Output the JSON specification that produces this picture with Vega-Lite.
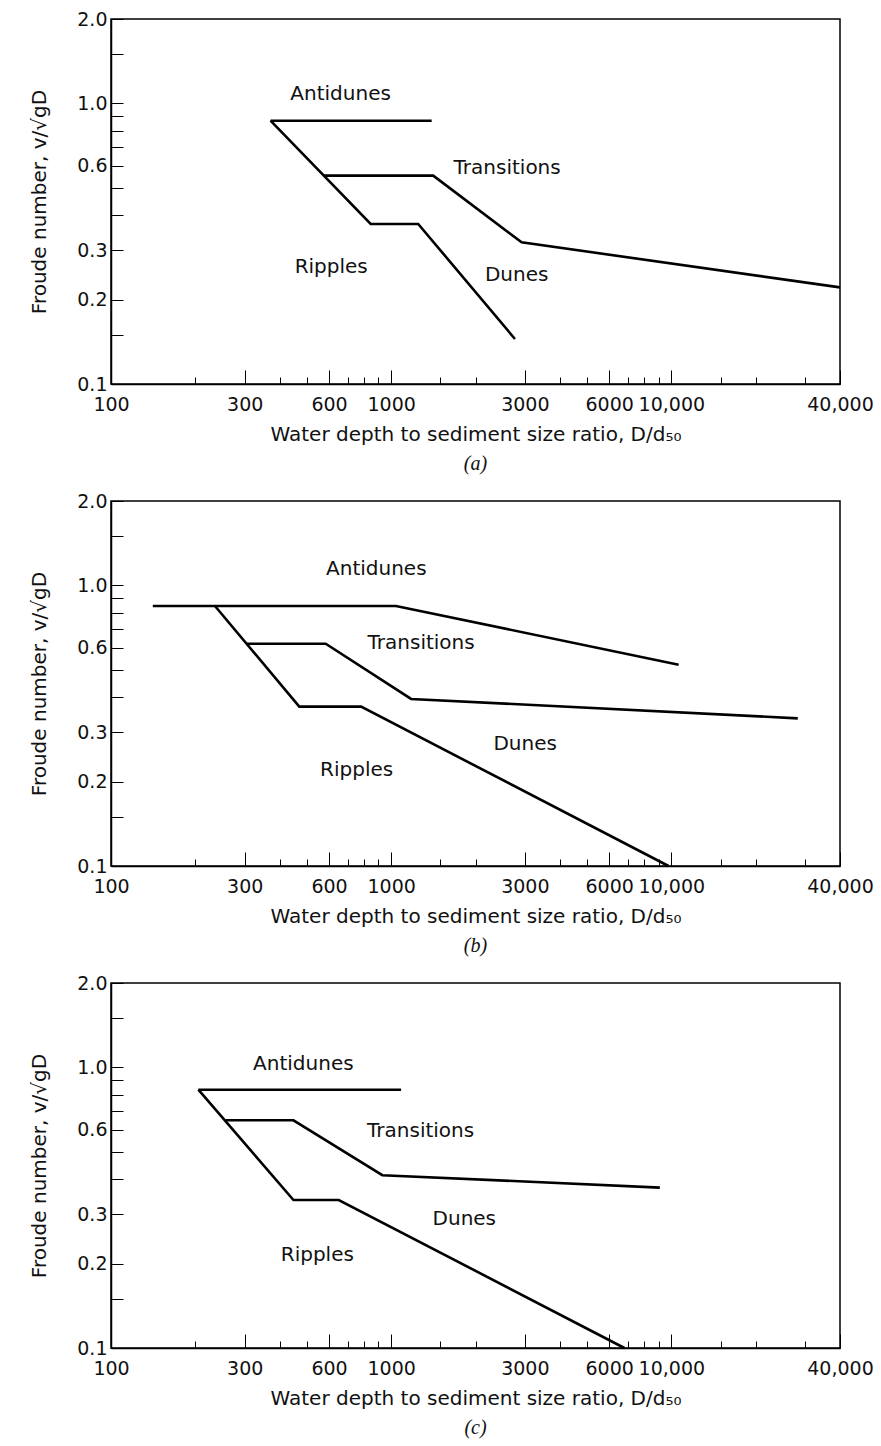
{
  "$schema": "https://vega.github.io/schema/vega-lite/v6.json",
  "padding": {"left": 29, "top": 9, "right": 2, "bottom": 2},
  "background": "white",
  "spacing": 16,
  "datasets": {
    "lines": [
      {"p": "a", "id": "anti", "i": 1, "x": 371, "y": 0.868},
      {"p": "a", "id": "anti", "i": 2, "x": 1395, "y": 0.868},
      {"p": "a", "id": "rip", "i": 1, "x": 371, "y": 0.868},
      {"p": "a", "id": "rip", "i": 2, "x": 845, "y": 0.372},
      {"p": "a", "id": "rip", "i": 3, "x": 1249, "y": 0.372},
      {"p": "a", "id": "rip", "i": 4, "x": 2766, "y": 0.1447},
      {"p": "a", "id": "tra", "i": 1, "x": 575, "y": 0.553},
      {"p": "a", "id": "tra", "i": 2, "x": 1413, "y": 0.553},
      {"p": "a", "id": "tra", "i": 3, "x": 2922, "y": 0.32},
      {"p": "a", "id": "tra", "i": 4, "x": 40000, "y": 0.221},
      {"p": "b", "id": "anti", "i": 1, "x": 141, "y": 0.845},
      {"p": "b", "id": "anti", "i": 2, "x": 1040, "y": 0.845},
      {"p": "b", "id": "anti", "i": 3, "x": 10620, "y": 0.522},
      {"p": "b", "id": "rip", "i": 1, "x": 235, "y": 0.845},
      {"p": "b", "id": "rip", "i": 2, "x": 470, "y": 0.37},
      {"p": "b", "id": "rip", "i": 3, "x": 781, "y": 0.37},
      {"p": "b", "id": "rip", "i": 4, "x": 9770, "y": 0.1},
      {"p": "b", "id": "tra", "i": 1, "x": 305, "y": 0.62},
      {"p": "b", "id": "tra", "i": 2, "x": 584, "y": 0.62},
      {"p": "b", "id": "tra", "i": 3, "x": 1178, "y": 0.394},
      {"p": "b", "id": "tra", "i": 4, "x": 28270, "y": 0.336},
      {"p": "c", "id": "anti", "i": 1, "x": 205, "y": 0.833},
      {"p": "c", "id": "anti", "i": 2, "x": 1085, "y": 0.833},
      {"p": "c", "id": "rip", "i": 1, "x": 205, "y": 0.833},
      {"p": "c", "id": "rip", "i": 2, "x": 448, "y": 0.337},
      {"p": "c", "id": "rip", "i": 3, "x": 650, "y": 0.337},
      {"p": "c", "id": "rip", "i": 4, "x": 6800, "y": 0.1},
      {"p": "c", "id": "tra", "i": 1, "x": 256, "y": 0.648},
      {"p": "c", "id": "tra", "i": 2, "x": 448, "y": 0.648},
      {"p": "c", "id": "tra", "i": 3, "x": 930, "y": 0.413},
      {"p": "c", "id": "tra", "i": 4, "x": 9100, "y": 0.373}
    ],
    "labels": [
      {"p": "a", "text": "Antidunes", "x": 660, "y": 1.08},
      {"p": "a", "text": "Transitions", "x": 2594, "y": 0.59},
      {"p": "a", "text": "Ripples", "x": 611, "y": 0.261},
      {"p": "a", "text": "Dunes", "x": 2806, "y": 0.244},
      {"p": "b", "text": "Antidunes", "x": 885, "y": 1.149},
      {"p": "b", "text": "Transitions", "x": 1279, "y": 0.623},
      {"p": "b", "text": "Dunes", "x": 3007, "y": 0.273},
      {"p": "b", "text": "Ripples", "x": 753, "y": 0.2207},
      {"p": "c", "text": "Antidunes", "x": 486, "y": 1.026},
      {"p": "c", "text": "Transitions", "x": 1274, "y": 0.592},
      {"p": "c", "text": "Dunes", "x": 1824, "y": 0.288},
      {"p": "c", "text": "Ripples", "x": 545, "y": 0.2137}
    ]
  },
  "config": {
    "view": {"stroke": "black", "strokeWidth": 1.5},
    "font": "DejaVu Sans",
    "axis": {
      "grid": false,
      "domainColor": "black",
      "domainWidth": 1.5,
      "tickColor": "black",
      "tickWidth": 1,
      "labelColor": "#111",
      "labelFont": "DejaVu Sans",
      "labelFontSize": 19,
      "labelFlush": false,
      "labelOverlap": false,
      "titleFont": "DejaVu Sans",
      "titleFontSize": 20,
      "titleFontWeight": "normal",
      "titleColor": "#111"
    },
    "title": {"font": "Liberation Serif", "fontStyle": "italic", "fontWeight": "normal", "fontSize": 20, "color": "#111", "orient": "bottom", "anchor": "middle", "offset": 10}
  },
  "vconcat": [
    {
      "width": 729, "height": 365,
      "title": "(a)",
      "layer": [
        {
          "data": {"name": "lines"},
          "transform": [{"filter": "datum.p == 'a'"}],
          "mark": {"type": "line", "color": "black", "strokeWidth": 2.6},
          "encoding": {
            "x": {"field": "x", "type": "quantitative", "scale": {"type": "log", "domain": [100, 40000], "nice": false},
              "axis": {"title": "Water depth to sediment size ratio, D/d₅₀",
                "values": [100, 200, 300, 400, 500, 600, 700, 800, 900, 1000, 1500, 2000, 3000, 4000, 5000, 6000, 7000, 8000, 9000, 10000, 15000, 20000, 30000, 40000],
                "labelExpr": "datum.value == 10000 ? '10,000' : datum.value == 40000 ? '40,000' : indexof([100, 300, 600, 1000, 3000, 6000], datum.value) >= 0 ? format(datum.value, 'd') : ''",
                "tickSize": {"condition": {"test": "indexof([100, 300, 600, 1000, 3000, 6000, 10000, 40000], datum.value) >= 0", "value": -14}, "value": -7},
                "labelPadding": 25, "titlePadding": 3}},
            "y": {"field": "y", "type": "quantitative", "scale": {"type": "log", "domain": [0.1, 2], "nice": false},
              "axis": {"title": "Froude number, v/√gD",
                "values": [0.1, 0.15, 0.2, 0.3, 0.4, 0.5, 0.6, 0.7, 0.8, 0.9, 1, 1.5, 2],
                "labelExpr": "indexof([0.1, 0.2, 0.3, 0.6, 1, 2], datum.value) >= 0 ? format(datum.value, '.1f') : ''",
                "tickSize": -12, "labelPadding": 16, "titlePadding": 27}},
            "detail": {"field": "id"},
            "order": {"field": "i"}
          }
        },
        {
          "data": {"name": "labels"},
          "transform": [{"filter": "datum.p == 'a'"}],
          "mark": {"type": "text", "fontSize": 20, "font": "DejaVu Sans", "color": "#111"},
          "encoding": {
            "x": {"field": "x", "type": "quantitative"},
            "y": {"field": "y", "type": "quantitative"},
            "text": {"field": "text"}
          }
        }
      ]
    },
    {
      "width": 729, "height": 365,
      "title": "(b)",
      "layer": [
        {
          "data": {"name": "lines"},
          "transform": [{"filter": "datum.p == 'b'"}],
          "mark": {"type": "line", "color": "black", "strokeWidth": 2.6},
          "encoding": {
            "x": {"field": "x", "type": "quantitative", "scale": {"type": "log", "domain": [100, 40000], "nice": false},
              "axis": {"title": "Water depth to sediment size ratio, D/d₅₀",
                "values": [100, 200, 300, 400, 500, 600, 700, 800, 900, 1000, 1500, 2000, 3000, 4000, 5000, 6000, 7000, 8000, 9000, 10000, 15000, 20000, 30000, 40000],
                "labelExpr": "datum.value == 10000 ? '10,000' : datum.value == 40000 ? '40,000' : indexof([100, 300, 600, 1000, 3000, 6000], datum.value) >= 0 ? format(datum.value, 'd') : ''",
                "tickSize": {"condition": {"test": "indexof([100, 300, 600, 1000, 3000, 6000, 10000, 40000], datum.value) >= 0", "value": -14}, "value": -7},
                "labelPadding": 25, "titlePadding": 3}},
            "y": {"field": "y", "type": "quantitative", "scale": {"type": "log", "domain": [0.1, 2], "nice": false},
              "axis": {"title": "Froude number, v/√gD",
                "values": [0.1, 0.15, 0.2, 0.3, 0.4, 0.5, 0.6, 0.7, 0.8, 0.9, 1, 1.5, 2],
                "labelExpr": "indexof([0.1, 0.2, 0.3, 0.6, 1, 2], datum.value) >= 0 ? format(datum.value, '.1f') : ''",
                "tickSize": -12, "labelPadding": 16, "titlePadding": 27}},
            "detail": {"field": "id"},
            "order": {"field": "i"}
          }
        },
        {
          "data": {"name": "labels"},
          "transform": [{"filter": "datum.p == 'b'"}],
          "mark": {"type": "text", "fontSize": 20, "font": "DejaVu Sans", "color": "#111"},
          "encoding": {
            "x": {"field": "x", "type": "quantitative"},
            "y": {"field": "y", "type": "quantitative"},
            "text": {"field": "text"}
          }
        }
      ]
    },
    {
      "width": 729, "height": 365,
      "title": "(c)",
      "layer": [
        {
          "data": {"name": "lines"},
          "transform": [{"filter": "datum.p == 'c'"}],
          "mark": {"type": "line", "color": "black", "strokeWidth": 2.6},
          "encoding": {
            "x": {"field": "x", "type": "quantitative", "scale": {"type": "log", "domain": [100, 40000], "nice": false},
              "axis": {"title": "Water depth to sediment size ratio, D/d₅₀",
                "values": [100, 200, 300, 400, 500, 600, 700, 800, 900, 1000, 1500, 2000, 3000, 4000, 5000, 6000, 7000, 8000, 9000, 10000, 15000, 20000, 30000, 40000],
                "labelExpr": "datum.value == 10000 ? '10,000' : datum.value == 40000 ? '40,000' : indexof([100, 300, 600, 1000, 3000, 6000], datum.value) >= 0 ? format(datum.value, 'd') : ''",
                "tickSize": {"condition": {"test": "indexof([100, 300, 600, 1000, 3000, 6000, 10000, 40000], datum.value) >= 0", "value": -14}, "value": -7},
                "labelPadding": 25, "titlePadding": 3}},
            "y": {"field": "y", "type": "quantitative", "scale": {"type": "log", "domain": [0.1, 2], "nice": false},
              "axis": {"title": "Froude number, v/√gD",
                "values": [0.1, 0.15, 0.2, 0.3, 0.4, 0.5, 0.6, 0.7, 0.8, 0.9, 1, 1.5, 2],
                "labelExpr": "indexof([0.1, 0.2, 0.3, 0.6, 1, 2], datum.value) >= 0 ? format(datum.value, '.1f') : ''",
                "tickSize": -12, "labelPadding": 16, "titlePadding": 27}},
            "detail": {"field": "id"},
            "order": {"field": "i"}
          }
        },
        {
          "data": {"name": "labels"},
          "transform": [{"filter": "datum.p == 'c'"}],
          "mark": {"type": "text", "fontSize": 20, "font": "DejaVu Sans", "color": "#111"},
          "encoding": {
            "x": {"field": "x", "type": "quantitative"},
            "y": {"field": "y", "type": "quantitative"},
            "text": {"field": "text"}
          }
        }
      ]
    }
  ]
}
